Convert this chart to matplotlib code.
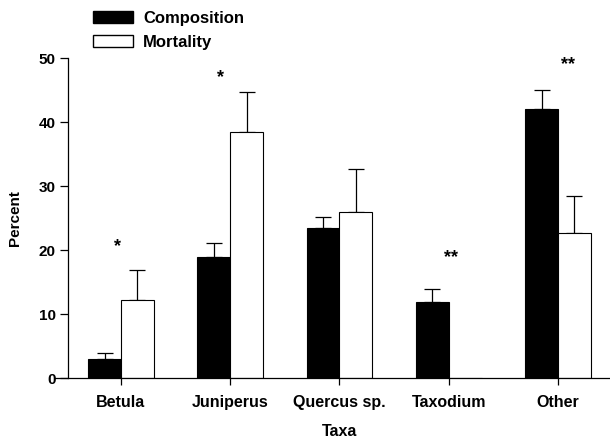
import numpy as np
import matplotlib
matplotlib.use('Agg')
import matplotlib.pyplot as plt
from matplotlib.patches import Patch

plt.rcParams['font.family'] = ['Liberation Sans', 'DejaVu Sans']
plt.rcParams['font.weight'] = 'bold'

taxa = ['Betula', 'Juniperus', 'Quercus sp.', 'Taxodium', 'Other']
composition = [3.0, 18.9, 23.4, 11.9, 42.0]
composition_err = [0.9, 2.2, 1.8, 2.0, 3.0]
mortality = [12.2, 38.4, 26.0, 0.0, 22.7]
mortality_err = [4.7, 6.3, 6.7, 0.0, 5.7]
# significance marks: (category index, height, text)
sig_marks = [(0, 20.5, '*'), (1, 47.0, '*'), (3, 18.8, '**'), (4, 49.0, '**')]
sig_offsets = [-0.03, -0.09, 0.02, 0.09]  # nudge relative to category centre

fig = plt.figure(figsize=(6.1, 4.4), dpi=100)
ax = fig.add_axes([55/610, 62/440, 555/610, 320/440])

x = np.arange(len(taxa))
w = 0.30
ax.bar(x - w/2, composition, w, color='black', edgecolor='black',
       linewidth=0.8, zorder=2)
ax.bar(x + w/2, mortality, w, color='white', edgecolor='black',
       linewidth=0.8, zorder=2)

for xi, val, err in zip(x - w/2, composition, composition_err):
    if err > 0:
        ax.errorbar(xi, val, yerr=[[0], [err]], color='black', lw=0.9,
                    capsize=6, capthick=0.9, zorder=1)
for xi, val, err in zip(x + w/2, mortality, mortality_err):
    if err > 0:
        ax.errorbar(xi, val, yerr=[[0], [err]], color='black', lw=0.9,
                    capsize=6, capthick=0.9, zorder=1)

for (i, h, s), dx in zip(sig_marks, sig_offsets):
    ax.text(x[i] + dx, h, s, ha='center', va='center', fontsize=13,
            fontweight='bold')

ax.set_xlim(-0.604, 4.476)
ax.set_ylim(0, 50)
ax.set_yticks(range(0, 51, 10))
ax.set_xticks(x)
ax.set_xticklabels(taxa, fontsize=11.5, fontweight='bold')
ax.tick_params(axis='y', labelsize=11, length=6, width=0.9, pad=3)
ax.tick_params(axis='x', length=5, width=0.9, pad=7)
for lab in ax.get_yticklabels():
    lab.set_fontweight('bold')

ax.spines['top'].set_visible(False)
ax.spines['right'].set_visible(False)
ax.spines['left'].set_position(('axes', 13/555))
ax.spines['left'].set_bounds(0, 50)
ax.spines['left'].set_linewidth(0.9)
ax.spines['bottom'].set_linewidth(0.9)

ax.set_ylabel('Percent', fontsize=11, fontweight='bold')
ax.yaxis.set_label_coords(-(55 - 22)/555, 0.5)
ax.set_xlabel('Taxa', fontsize=11.5, fontweight='bold', va='center')
ax.xaxis.set_label_coords((340 - 55)/555, -(431 - 378)/320)

handles = [Patch(facecolor='black', edgecolor='black'),
           Patch(facecolor='white', edgecolor='black')]
fig.legend(handles, ['Composition', 'Mortality'], loc='upper left',
           bbox_to_anchor=(78/610, 1 + 4/440), frameon=False,
           prop={'size': 12, 'weight': 'bold'}, handlelength=2.4,
           handleheight=0.7, labelspacing=0.55, handletextpad=0.6)

fig.savefig('out.png', dpi=100)
